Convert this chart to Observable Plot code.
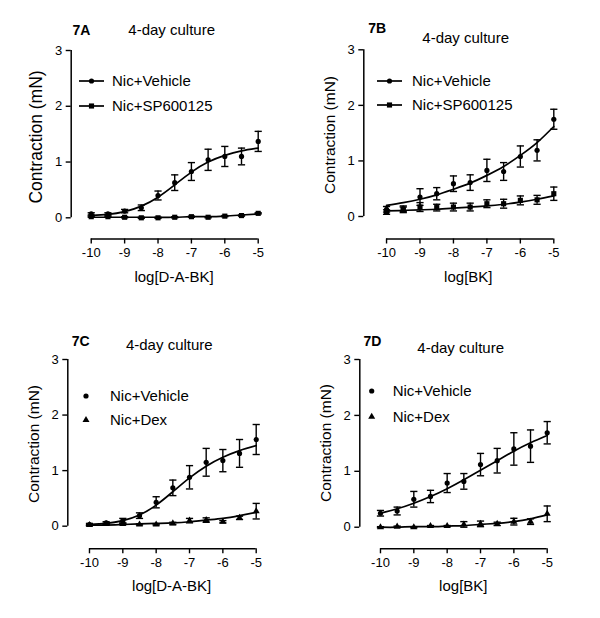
<!DOCTYPE html>
<html>
<head>
<meta charset="utf-8">
<script src="https://cdn.jsdelivr.net/npm/d3@7"></script>
<script src="https://cdn.jsdelivr.net/npm/@observablehq/plot@0.6"></script>
<style>
  html, body { margin: 0; padding: 0; background: #fff; }
  #chart { position: relative; width: 600px; height: 618px; background: #fff; font-family: "Liberation Sans", Arial, sans-serif; }
  #chart > div { position: absolute; }
</style>
</head>
<body>
<div id="chart"></div>
<script>
// ---------- data ----------
const doses = [-10, -9.5, -9, -8.5, -8, -7.5, -7, -6.5, -6, -5.5, -5];
const xTicks = [-10, -9, -8, -7, -6, -5];
const yTicks = [0, 1, 2, 3];

// 7A : D-A-BK, Nic+Vehicle vs Nic+SP600125
const aVehicle     = [0.07, 0.07, 0.12, 0.18, 0.40, 0.63, 0.83, 1.04, 1.10, 1.10, 1.37];
const aVehicleSem  = [0.02, 0.02, 0.03, 0.05, 0.08, 0.14, 0.16, 0.19, 0.18, 0.15, 0.18];
const aVehicleFit  = [0.04, 0.06, 0.11, 0.21, 0.37, 0.59, 0.82, 1.00, 1.12, 1.20, 1.25];
const aSp          = [0.02, 0.02, 0.01, 0.00, 0.00, 0.01, 0.02, 0.01, 0.03, 0.04, 0.08];
const aSpSem       = [0.01, 0.01, 0.01, 0.01, 0.01, 0.01, 0.01, 0.01, 0.01, 0.01, 0.01];
const aSpFit       = [0.01, 0.01, 0.01, 0.01, 0.01, 0.01, 0.02, 0.02, 0.03, 0.05, 0.07];

// 7B : BK, Nic+Vehicle vs Nic+SP600125
const bVehicle     = [0.13, 0.14, 0.35, 0.41, 0.59, 0.61, 0.83, 0.81, 1.08, 1.19, 1.75];
const bVehicleSem  = [0.05, 0.05, 0.15, 0.11, 0.14, 0.14, 0.20, 0.16, 0.19, 0.19, 0.18];
const bVehicleFit  = [0.20, 0.25, 0.31, 0.39, 0.49, 0.60, 0.74, 0.90, 1.10, 1.33, 1.62];
const bSp          = [0.08, 0.12, 0.17, 0.16, 0.17, 0.17, 0.23, 0.23, 0.29, 0.30, 0.41];
const bSpSem       = [0.04, 0.05, 0.08, 0.06, 0.07, 0.07, 0.07, 0.08, 0.08, 0.08, 0.12];
const bSpFit       = [0.10, 0.11, 0.12, 0.13, 0.15, 0.17, 0.19, 0.22, 0.26, 0.31, 0.37];

// 7C : D-A-BK, Nic+Vehicle vs Nic+Dex
const cVehicle     = [0.03, 0.06, 0.10, 0.19, 0.43, 0.69, 0.88, 1.15, 1.18, 1.31, 1.56];
const cVehicleSem  = [0.02, 0.02, 0.04, 0.05, 0.10, 0.14, 0.21, 0.25, 0.20, 0.25, 0.27];
const cVehicleFit  = [0.03, 0.05, 0.10, 0.20, 0.38, 0.62, 0.87, 1.08, 1.24, 1.36, 1.45];
const cDex         = [0.02, 0.04, 0.04, 0.03, 0.03, 0.05, 0.10, 0.11, 0.08, 0.15, 0.27];
const cDexSem      = [0.01, 0.01, 0.01, 0.01, 0.01, 0.02, 0.04, 0.04, 0.02, 0.03, 0.14];
const cDexFit      = [0.02, 0.02, 0.03, 0.04, 0.05, 0.06, 0.08, 0.11, 0.14, 0.19, 0.25];

// 7D : BK, Nic+Vehicle vs Nic+Dex
const dVehicle     = [0.25, 0.29, 0.50, 0.55, 0.79, 0.82, 1.12, 1.19, 1.40, 1.45, 1.69];
const dVehicleSem  = [0.05, 0.07, 0.14, 0.11, 0.17, 0.14, 0.20, 0.22, 0.29, 0.29, 0.20];
const dVehicleFit  = [0.25, 0.33, 0.43, 0.55, 0.69, 0.85, 1.02, 1.19, 1.36, 1.51, 1.64];
const dDex         = [0.00, 0.01, 0.00, 0.02, 0.02, 0.05, 0.06, 0.06, 0.10, 0.10, 0.24];
const dDexSem      = [0.01, 0.01, 0.01, 0.01, 0.01, 0.05, 0.05, 0.03, 0.06, 0.05, 0.14];
const dDexFit      = [0.00, 0.00, 0.01, 0.01, 0.02, 0.03, 0.05, 0.07, 0.10, 0.15, 0.22];

const panelIds   = ["7A", "7B", "7C", "7D"];
const subtitle   = "4-day culture";
const xLabels    = ["log[D-A-BK]", "log[BK]", "log[D-A-BK]", "log[BK]"];
const yLabel     = "Contraction (mN)";
const seriesNamesAB = ["Nic+Vehicle", "Nic+SP600125"];
const seriesNamesCD = ["Nic+Vehicle", "Nic+Dex"];

// ---------- layout ----------
const W = 300, H = 309;
const FONT = '"Liberation Sans", Arial, sans-serif';

// a horizontal-line symbol for error-bar caps
const capSymbol = {
  draw(context, size) {
    const r = Math.sqrt(size / Math.PI);
    context.moveTo(-r, 0);
    context.lineTo(r, 0);
  }
};

const panels = [
  {
    id: panelIds[0], xLabel: xLabels[0], left: 0, top: 0,
    margin: {left: 70.7, right: 42.3, top: 50, bottom: 70.5},
    xMin: -10.6, yMin: -0.38,
    series: [
      {name: seriesNamesAB[0], mean: aVehicle, sem: aVehicleSem, fit: aVehicleFit, symbol: "circle", r: 2.6},
      {name: seriesNamesAB[1], mean: aSp, sem: aSpSem, fit: aSpFit, symbol: "square", r: 2.9}
    ],
    legendLines: true,
    legend: {x0: 79, x1: 104, tx: 112, y: [81, 106]},
    idPos: [72.5, 30], subPos: [171.7, 30],
    yLab: {x: 35.5, y: 137, size: 17.5},
    xLab: {x: 174, y: 277}
  },
  {
    id: panelIds[1], xLabel: xLabels[1], left: 300, top: 0,
    margin: {left: 63.3, right: 46.7, top: 49.3, bottom: 70.5},
    xMin: -10.68, yMin: -0.405,
    series: [
      {name: seriesNamesAB[0], mean: bVehicle, sem: bVehicleSem, fit: bVehicleFit, symbol: "circle", r: 2.6},
      {name: seriesNamesAB[1], mean: bSp, sem: bSpSem, fit: bSpFit, symbol: "square", r: 2.9}
    ],
    legendLines: true,
    legend: {x0: 77, x1: 102, tx: 112, y: [81, 105]},
    idPos: [68.3, 28.5], subPos: [165.7, 37.5],
    yLab: {x: 29.5, y: 135, size: 15.5},
    xLab: {x: 168.3, y: 277}
  },
  {
    id: panelIds[2], xLabel: xLabels[2], left: 0, top: 309,
    margin: {left: 67.3, right: 44.3, top: 50, bottom: 69.7},
    xMin: -10.65, yMin: -0.407,
    series: [
      {name: seriesNamesCD[0], mean: cVehicle, sem: cVehicleSem, fit: cVehicleFit, symbol: "circle", r: 2.6},
      {name: seriesNamesCD[1], mean: cDex, sem: cDexSem, fit: cDexFit, symbol: "triangle", r: 2.6}
    ],
    legendLines: false,
    legend: {mx: 86, tx: 110, y: [87, 111]},
    idPos: [71.7, 31.7], subPos: [169.3, 36],
    yLab: {x: 34, y: 135, size: 15.5},
    xLab: {x: 171.7, y: 277}
  },
  {
    id: panelIds[3], xLabel: xLabels[3], left: 300, top: 309,
    margin: {left: 59.3, right: 53.3, top: 50, bottom: 69.7},
    xMin: -10.62, yMin: -0.386,
    series: [
      {name: seriesNamesCD[0], mean: dVehicle, sem: dVehicleSem, fit: dVehicleFit, symbol: "circle", r: 2.6},
      {name: seriesNamesCD[1], mean: dDex, sem: dDexSem, fit: dDexFit, symbol: "triangle", r: 2.6}
    ],
    legendLines: false,
    legend: {mx: 71.7, tx: 92.7, y: [82, 107.7]},
    idPos: [63.5, 31.7], subPos: [160.7, 38.7],
    yLab: {x: 25.5, y: 134, size: 15.5},
    xLab: {x: 163.3, y: 277}
  }
];

const fmt = d => (d < 0 ? "-" + Math.abs(d) : String(d));

function drawPanel(p) {
  const marks = [];
  for (const s of p.series) {
    const pts = doses.map((d, i) => ({x: d, y: s.mean[i], lo: s.mean[i] - s.sem[i], hi: s.mean[i] + s.sem[i]}));
    const fit = doses.map((d, i) => ({x: d, y: s.fit[i]}));
    marks.push(Plot.line(fit, {x: "x", y: "y", curve: "natural", stroke: "#000", strokeWidth: 1.7}));
    marks.push(Plot.ruleX(pts, {x: "x", y1: "lo", y2: "hi", stroke: "#000", strokeWidth: 1.4}));
    marks.push(Plot.dot(pts, {x: "x", y: "lo", symbol: capSymbol, r: 3.6, stroke: "#000", strokeWidth: 1.4, fill: "none"}));
    marks.push(Plot.dot(pts, {x: "x", y: "hi", symbol: capSymbol, r: 3.6, stroke: "#000", strokeWidth: 1.4, fill: "none"}));
    marks.push(Plot.dot(pts, {x: "x", y: "y", symbol: s.symbol, r: s.r, fill: "#000", stroke: "none"}));
  }
  // detached axis lines
  marks.push(Plot.ruleX([{x: p.xMin, y1: 0, y2: 3}], {x: "x", y1: "y1", y2: "y2", stroke: "#000", strokeWidth: 1.5}));
  marks.push(Plot.ruleY([{y: p.yMin, x1: -10, x2: -5}], {y: "y", x1: "x1", x2: "x2", stroke: "#000", strokeWidth: 1.5}));
  marks.push(Plot.axisY({ticks: yTicks, tickSize: 5, tickPadding: 4, tickFormat: fmt, label: null, fontSize: 13, strokeWidth: 1.4}));
  marks.push(Plot.axisX({ticks: xTicks, tickSize: 5, tickPadding: 4, tickFormat: fmt, label: null, fontSize: 13, strokeWidth: 1.4}));

  const svg = Plot.plot({
    width: W, height: H,
    marginLeft: p.margin.left, marginRight: p.margin.right,
    marginTop: p.margin.top, marginBottom: p.margin.bottom,
    x: {domain: [p.xMin, -5]},
    y: {domain: [p.yMin, 3]},
    style: {fontFamily: FONT, color: "#000", background: "transparent", overflow: "visible"},
    marks
  });

  const g = d3.select(svg).append("g").attr("font-family", FONT).attr("fill", "#000").attr("text-anchor", "start");
  // panel id and subtitle
  g.append("text").attr("x", p.idPos[0]).attr("y", p.idPos[1]).attr("dy", "0.35em")
    .attr("text-anchor", "start").attr("font-size", 14).attr("font-weight", "bold").text(p.id);
  g.append("text").attr("x", p.subPos[0]).attr("y", p.subPos[1]).attr("dy", "0.35em")
    .attr("text-anchor", "middle").attr("font-size", 15).text(subtitle);
  // axis titles
  g.append("text").attr("transform", `translate(${p.yLab.x},${p.yLab.y}) rotate(-90)`)
    .attr("dy", "0.35em").attr("text-anchor", "middle").attr("font-size", p.yLab.size).text(yLabel);
  g.append("text").attr("x", p.xLab.x).attr("y", p.xLab.y).attr("dy", "0.35em")
    .attr("text-anchor", "middle").attr("font-size", 15).text(p.xLabel);
  // legend
  p.series.forEach((s, i) => {
    const y = p.legend.y[i];
    const sym = d3.symbol().type(s.symbol === "circle" ? d3.symbolCircle : s.symbol === "square" ? d3.symbolSquare : d3.symbolTriangle)
      .size(Math.PI * s.r * s.r);
    let mx;
    if (p.legendLines) {
      g.append("line").attr("x1", p.legend.x0).attr("x2", p.legend.x1).attr("y1", y).attr("y2", y)
        .attr("stroke", "#000").attr("stroke-width", 1.7);
      mx = (p.legend.x0 + p.legend.x1) / 2;
    } else {
      mx = p.legend.mx;
    }
    g.append("path").attr("d", sym()).attr("transform", `translate(${mx},${y})`).attr("fill", "#000");
    g.append("text").attr("x", p.legend.tx).attr("y", y).attr("dy", "0.35em")
      .attr("text-anchor", "start").attr("font-size", 15).text(s.name);
  });

  const holder = document.createElement("div");
  holder.style.left = p.left + "px";
  holder.style.top = p.top + "px";
  holder.appendChild(svg);
  document.getElementById("chart").appendChild(holder);
}

panels.forEach(drawPanel);
</script>
</body>
</html>
